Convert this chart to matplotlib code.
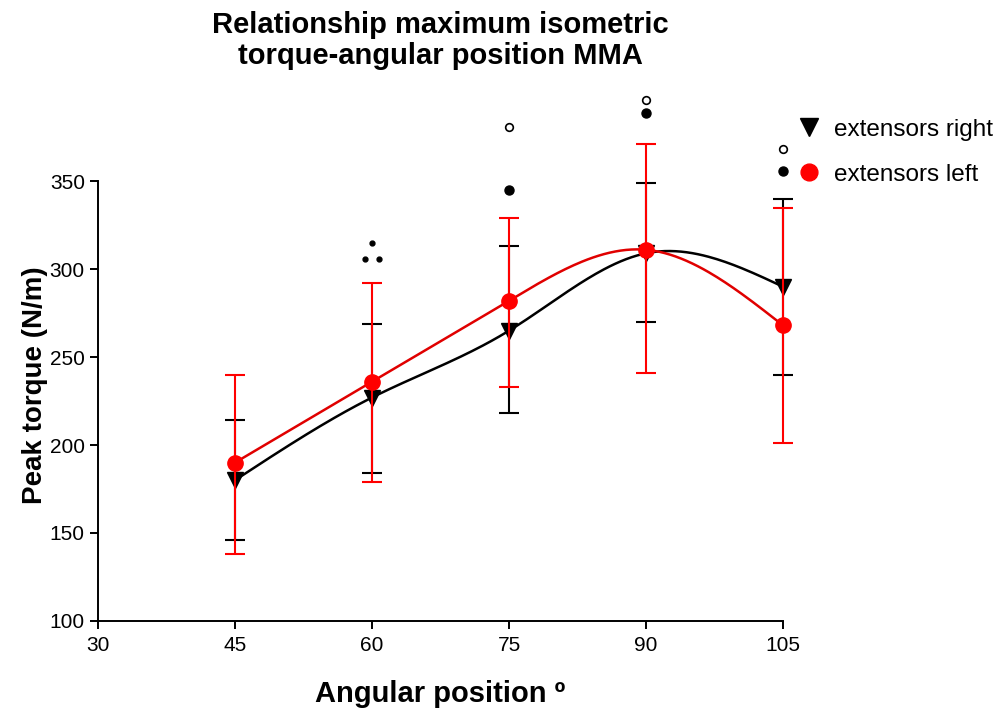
import matplotlib
matplotlib.use("Agg")
import matplotlib.pyplot as plt
import numpy as np

plt.rcParams['font.family'] = ['Liberation Sans', 'DejaVu Sans']

angles = [45, 60, 75, 90, 105]

right_mean = [180, 227, 265, 309, 290]
right_hi = [214, 269, 313, 349, 340]
right_lo = [146, 184, 218, 270, 240]

left_mean = [190, 236, 282, 311, 268]
left_hi = [240, 292, 329, 371, 335]
left_lo = [138, 179, 233, 241, 201]

# significance marks above the points
small_x = [60, 59.2, 60.8]
small_y = [315, 306, 306]
filled_x = [75, 90, 105]
filled_y = [345, 389, 356]
open_x = [75, 90, 105]
open_y = [381, 396, 368]


def natural_spline(x, y, n=200):
    x = np.asarray(x, float)
    y = np.asarray(y, float)
    k = len(x)
    h = np.diff(x)
    A = np.zeros((k, k))
    b = np.zeros(k)
    A[0, 0] = A[-1, -1] = 1
    for i in range(1, k - 1):
        A[i, i - 1] = h[i - 1]
        A[i, i] = 2 * (h[i - 1] + h[i])
        A[i, i + 1] = h[i]
        b[i] = 6 * ((y[i + 1] - y[i]) / h[i] - (y[i] - y[i - 1]) / h[i - 1])
    M = np.linalg.solve(A, b)
    xs = np.linspace(x[0], x[-1], n)
    ys = np.empty_like(xs)
    for j, t in enumerate(xs):
        i = min(np.searchsorted(x, t, side='right') - 1, k - 2)
        a = x[i + 1] - t
        c = t - x[i]
        ys[j] = (M[i] * a ** 3 + M[i + 1] * c ** 3) / (6 * h[i]) \
            + (y[i] / h[i] - M[i] * h[i] / 6) * a \
            + (y[i + 1] / h[i] - M[i + 1] * h[i] / 6) * c
    return xs, ys


def no_clip(container):
    for a in container.get_children():
        a.set_clip_on(False)


fig = plt.figure(figsize=(10.07, 7.17), dpi=100)
ax = fig.add_axes([0.0973, 0.134, 0.6803, 0.736])

rm = np.array(right_mean)
lm = np.array(left_mean)

xs, ys = natural_spline(angles, right_mean)
ax.plot(xs, ys, color='black', lw=1.8, zorder=2, clip_on=False)
eb = ax.errorbar(angles, rm, yerr=[rm - np.array(right_lo), np.array(right_hi) - rm],
                 fmt='none', ecolor='black', elinewidth=1.5, capsize=7, capthick=1.5, zorder=2)
no_clip(eb)
ax.plot(angles, rm, 'v', color='black', markersize=12, zorder=3, clip_on=False,
        label='extensors right')

xs, ys = natural_spline(angles, left_mean)
ax.plot(xs, ys, color='#e00000', lw=1.8, zorder=4, clip_on=False)
eb = ax.errorbar(angles, lm, yerr=[lm - np.array(left_lo), np.array(left_hi) - lm],
                 fmt='none', ecolor='red', elinewidth=1.5, capsize=7, capthick=1.5, zorder=4)
no_clip(eb)
ax.plot(angles, lm, 'o', color='red', markersize=11, zorder=5, clip_on=False,
        label='extensors left')

ax.plot(small_x, small_y, 'o', color='black', markersize=3.5, clip_on=False, zorder=5)
ax.plot(filled_x, filled_y, 'o', color='black', markersize=6.5, clip_on=False, zorder=5)
ax.plot(open_x, open_y, 'o', mfc='white', mec='black', mew=1.2, markersize=5.5,
        clip_on=False, zorder=5)

ax.set_xlim(30, 105)
ax.set_ylim(100, 400)
ax.set_xticks([30, 45, 60, 75, 90, 105])
ax.set_yticks([100, 150, 200, 250, 300, 350])
ax.spines['top'].set_visible(False)
ax.spines['right'].set_visible(False)
ax.spines['left'].set_bounds(100, 350)
ax.spines['left'].set_linewidth(1.4)
ax.spines['bottom'].set_linewidth(1.4)
ax.tick_params(direction='out', length=6, width=1.4, labelsize=15)
ax.tick_params(axis='x', pad=5)

ax.set_xlabel('Angular position º', fontsize=21, fontweight='bold', labelpad=18)
ax.set_ylabel('Peak torque (N/m)', fontsize=20, fontweight='bold', labelpad=1)
ax.yaxis.label.set_y(0.447)

fig.text(0.437, 0.985, 'Relationship maximum isometric\ntorque-angular position MMA',
         ha='center', va='top', fontsize=21, fontweight='bold', linespacing=1.15)

ax.legend(loc='upper left', bbox_to_anchor=(0.77, 0.865), bbox_transform=fig.transFigure,
          frameon=False, fontsize=17.5, handletextpad=0.5, labelspacing=0.95,
          handlelength=1.0, markerscale=1.1)

fig.savefig('out.png', dpi=100)
